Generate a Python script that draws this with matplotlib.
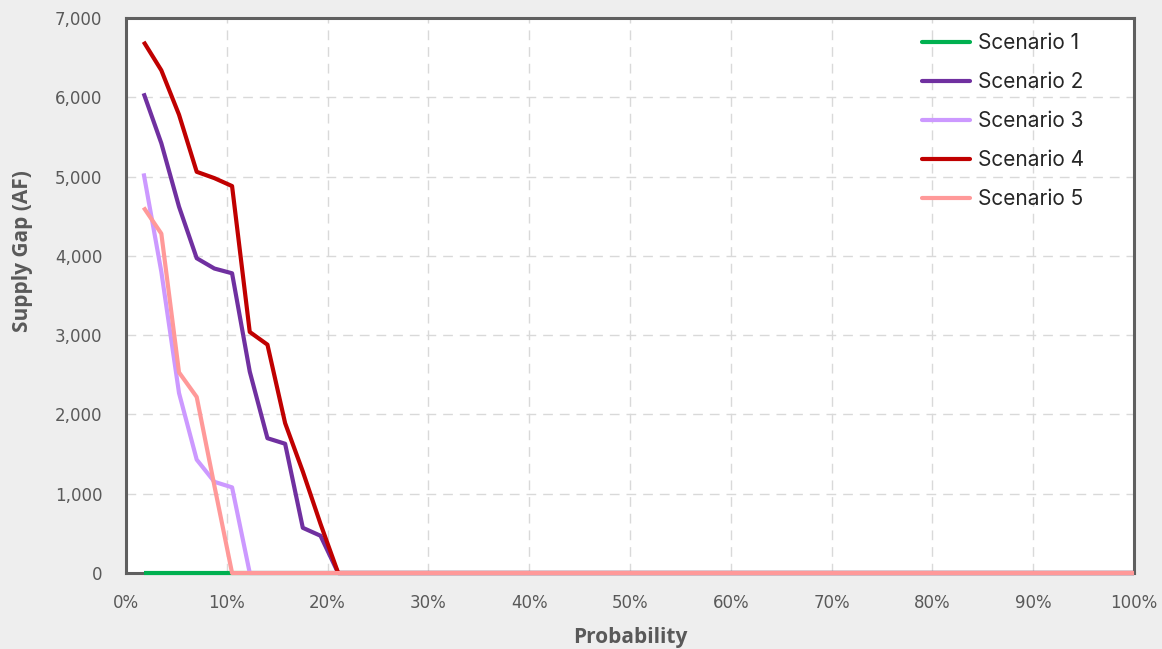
import matplotlib
matplotlib.use("Agg")
import matplotlib.pyplot as plt
from matplotlib.ticker import FuncFormatter, MultipleLocator

# probability ranks: i/57 for i = 1..57
n_years = 57
probability = [i / n_years * 100 for i in range(1, n_years + 1)]

# supply gap (AF) for the first 12 ranks, the rest are zero
scenario_1 = [0] * 12
scenario_2 = [6050, 5420, 4620, 3970, 3840, 3780, 2540, 1700, 1630, 570, 470, 0]
scenario_3 = [5040, 3800, 2270, 1430, 1150, 1080, 0, 0, 0, 0, 0, 0]
scenario_4 = [6700, 6340, 5780, 5060, 4980, 4880, 3040, 2880, 1890, 1280, 620, 0]
scenario_5 = [4610, 4280, 2530, 2220, 1100, 0, 0, 0, 0, 0, 0, 0]

names = ["Scenario 1", "Scenario 2", "Scenario 3", "Scenario 4", "Scenario 5"]
colors = ["#00b050", "#7030a0", "#cc99ff", "#c00000", "#ff9999"]


def pad(vals):
    return vals + [0] * (n_years - len(vals))


fig = plt.figure(figsize=(11.62, 6.49), dpi=100, facecolor="#eeeeee")
ax = fig.add_axes([0.1084, 0.1171, 0.8675, 0.8552])
ax.set_facecolor("white")

for name, vals, c in zip(names, [scenario_1, scenario_2, scenario_3, scenario_4, scenario_5], colors):
    ax.plot(probability, pad(vals), color=c, lw=3, label=name,
            solid_capstyle="butt", clip_on=False, zorder=5)

ax.set_xlim(0, 100)
ax.set_ylim(0, 7000)
ax.xaxis.set_major_locator(MultipleLocator(10))
ax.yaxis.set_major_locator(MultipleLocator(1000))
ax.xaxis.set_major_formatter(FuncFormatter(lambda v, p: f"{v:.0f}%"))
ax.yaxis.set_major_formatter(FuncFormatter(lambda v, p: f"{v:,.0f}"))
ax.tick_params(length=0, labelsize=12, labelcolor="#595959")
ax.tick_params(axis="x", pad=15)
ax.tick_params(axis="y", pad=17)
ax.grid(True, color="#d9d9d9", ls=(0, (7, 5)), lw=1)
ax.set_axisbelow(True)

for s in ax.spines.values():
    s.set_color("#5f5f5f")
    s.set_linewidth(2.2)

ax.set_xlabel("Probability", fontsize=15, fontweight="bold", color="#595959",
              family="Open Sans")
ax.set_ylabel("Supply Gap (AF)", fontsize=15, fontweight="bold", color="#595959",
              family="Open Sans")
ax.xaxis.set_label_coords(0.5, -0.117)
ax.xaxis.label.set_va("center")
ax.yaxis.set_label_coords(-0.1025, 0.58)
ax.yaxis.label.set_va("center")

leg = ax.legend(loc="upper left", bbox_to_anchor=(0.7815, 0.988), borderaxespad=0,
                frameon=False, handlelength=2.3, handletextpad=0.4,
                labelspacing=0.91, prop={"family": "Inter", "size": 15})
for t in leg.get_texts():
    t.set_color("#262626")
for h in leg.get_lines():
    h.set_linewidth(3)
    h.set_solid_capstyle("round")

fig.savefig("out.png", dpi=100, facecolor=fig.get_facecolor())
